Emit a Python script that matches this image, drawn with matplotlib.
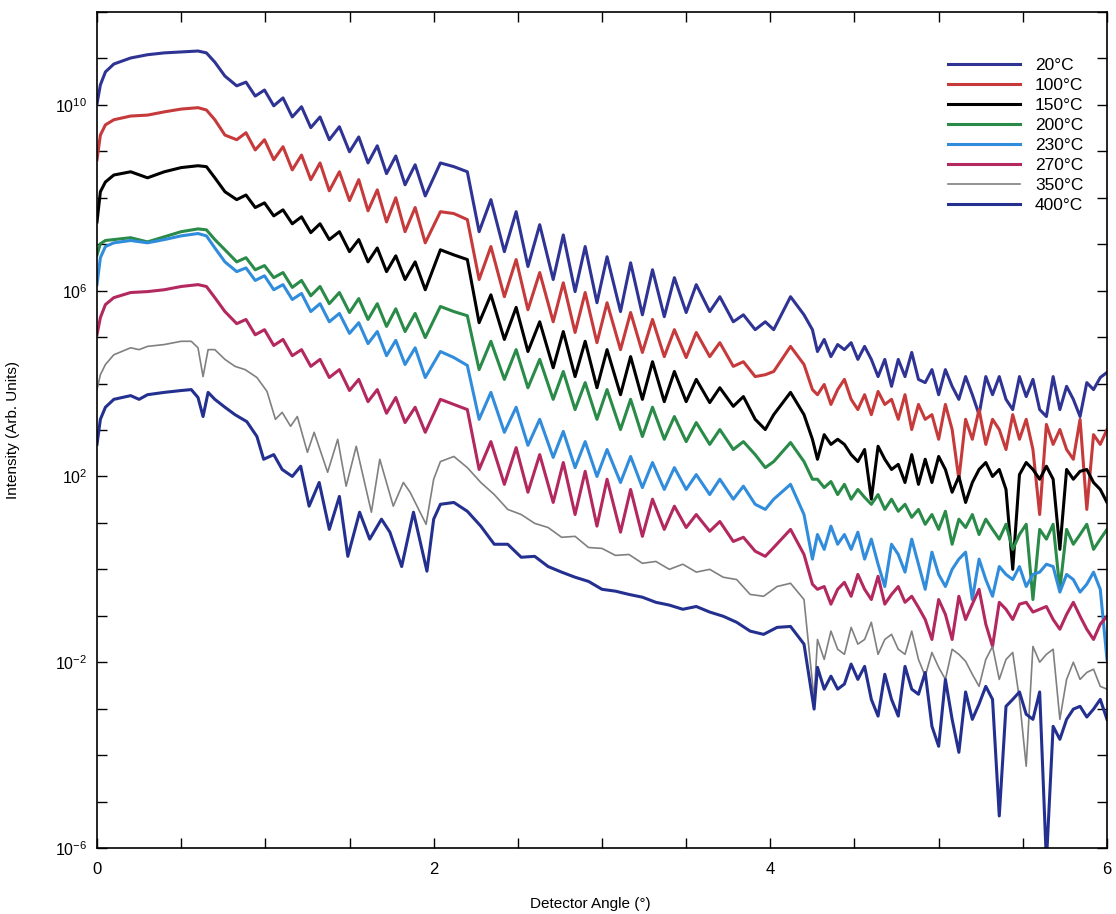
import numpy as np
import matplotlib
matplotlib.use("Agg")
import matplotlib.pyplot as plt
from matplotlib.ticker import FixedLocator, FuncFormatter, MultipleLocator, NullLocator

plt.rcParams["font.family"] = ["Liberation Sans", "DejaVu Sans"]
plt.rcParams["mathtext.default"] = "regular"

# ---- detector angle samples (degrees) ----
# upper six curves share the same fringe positions
head_a = [0.0, 0.02, 0.05, 0.1, 0.2, 0.3, 0.4, 0.5, 0.6, 0.65, 0.7, 0.76]
fringe1_a = [0.83, 0.885, 0.94, 0.995, 1.05, 1.105, 1.16, 1.215, 1.27, 1.325, 1.38,
             1.44, 1.50, 1.555, 1.61, 1.665, 1.72, 1.775, 1.83, 1.89, 1.95]
mid_a = [2.04, 2.12, 2.20]
fringe2_a = [2.27, 2.34, 2.42, 2.49, 2.56, 2.63, 2.71, 2.77, 2.84, 2.90, 2.97, 3.03,
             3.11, 3.17, 3.24, 3.30, 3.37, 3.43, 3.50, 3.56, 3.64, 3.70, 3.78, 3.84, 3.91]
bump_a = [3.97, 4.02, 4.12, 4.20, 4.25]
tail = [4.28, 4.32, 4.36, 4.40, 4.44, 4.48, 4.52, 4.56, 4.60, 4.64,
        4.68, 4.72, 4.76, 4.80, 4.84, 4.88, 4.92, 4.96, 5.00, 5.04,
        5.08, 5.12, 5.16, 5.20, 5.24, 5.28, 5.32, 5.36, 5.40, 5.44,
        5.48, 5.52, 5.56, 5.60, 5.64, 5.68, 5.72, 5.76, 5.80, 5.84,
        5.88, 5.92, 5.96, 6.00]
angle_upper = head_a + fringe1_a + mid_a + fringe2_a + bump_a + tail

# lower two curves (350 and 400 C)
head_b = [0.0, 0.02, 0.05, 0.1, 0.2, 0.25, 0.3, 0.4, 0.5, 0.56, 0.6, 0.63, 0.66, 0.7, 0.76, 0.82]
fringe_gray = [0.88, 0.95, 1.01, 1.06, 1.10, 1.15, 1.19, 1.25, 1.29, 1.37,
               1.43, 1.48, 1.54, 1.63, 1.68, 1.76, 1.82, 1.86, 1.955, 2.0]
fringe_navy = [0.89, 0.95, 0.99, 1.05, 1.10, 1.16, 1.21, 1.26, 1.32, 1.38,
               1.44, 1.49, 1.56, 1.62, 1.69, 1.74, 1.81, 1.88, 1.96, 2.0]
mid_b = [2.04, 2.12, 2.20, 2.28, 2.36, 2.44, 2.52, 2.60, 2.68, 2.76,
         2.84, 2.92, 3.00, 3.08, 3.16, 3.24, 3.32, 3.40, 3.48, 3.56,
         3.64, 3.72, 3.80, 3.88, 3.96, 4.04, 4.12, 4.20, 4.26]
angle_350 = head_b + fringe_gray + mid_b + tail
angle_400 = head_b + fringe_navy + mid_b + tail

# ---- log10 intensity ----
log_i_20 = [
    10.02, 10.43, 10.71, 10.88, 11.01, 11.08, 11.12, 11.14, 11.16, 11.12, 10.92, 10.62,
    10.41, 10.49, 10.19, 10.32, 9.98, 10.15, 9.74, 9.96, 9.51, 9.74, 9.25, 9.53, 8.99, 9.31,
    8.75, 9.12, 8.52, 8.90, 8.28, 8.71, 8.04,
    8.75, 8.67, 8.56,
    7.27, 7.96, 6.84, 7.70, 6.52, 7.42, 6.24, 7.20, 5.98, 6.95, 5.74, 6.73, 5.55, 6.60,
    5.48, 6.45, 5.44, 6.28, 5.53, 6.13, 5.55, 5.87, 5.33, 5.48, 5.16,
    5.33, 5.16, 5.87, 5.48, 5.16,
    4.69, 4.95, 4.58, 4.84, 4.73, 4.88, 4.52, 4.80, 4.52, 4.15, 4.52, 3.94, 4.52, 4.15,
    4.67, 4.09, 4.02, 4.30, 3.76, 4.30, 3.94, 3.66, 4.15, 3.76, 3.33, 4.15, 3.76, 4.15,
    3.66, 3.44, 4.15, 3.72, 4.09, 3.44, 3.29, 4.15, 3.44, 3.94, 3.66, 3.29, 4.02, 3.87,
    4.13, 4.24]
log_i_100 = [
    8.82, 9.35, 9.57, 9.68, 9.76, 9.78, 9.85, 9.91, 9.94, 9.89, 9.68, 9.35,
    9.25, 9.40, 9.03, 9.25, 8.82, 9.10, 8.60, 8.92, 8.39, 8.75, 8.15, 8.56, 7.94, 8.39,
    7.72, 8.17, 7.48, 8.00, 7.27, 7.79, 7.03,
    7.70, 7.66, 7.53,
    6.24, 6.95, 5.87, 6.67, 5.59, 6.39, 5.33, 6.17, 5.10, 5.96, 4.88, 5.74, 4.73, 5.53,
    4.67, 5.38, 4.58, 5.16, 4.56, 5.10, 4.58, 4.88, 4.37, 4.47, 4.15,
    4.19, 4.26, 4.80, 4.41, 3.87,
    3.76, 3.98, 3.55, 3.87, 4.09, 3.66, 3.44, 3.76, 3.33, 3.83, 3.55, 3.66, 3.23, 3.76,
    3.01, 3.55, 3.23, 3.33, 2.80, 3.55, 3.01, 1.94, 3.23, 2.80, 3.44, 2.69, 3.23, 3.01,
    2.58, 3.33, 2.80, 3.23, 2.58, 1.18, 3.12, 2.69, 3.01, 2.58, 2.37, 3.23, 1.29, 2.90,
    2.69, 3.01]
log_i_150 = [
    7.48, 8.13, 8.34, 8.49, 8.56, 8.43, 8.56, 8.65, 8.69, 8.67, 8.43, 8.13,
    7.96, 8.06, 7.79, 7.89, 7.61, 7.74, 7.44, 7.59, 7.25, 7.44, 7.10, 7.27, 6.84, 7.10,
    6.62, 6.92, 6.41, 6.75, 6.24, 6.62, 6.02,
    6.88, 6.77, 6.67,
    5.31, 5.91, 4.95, 5.64, 4.69, 5.33, 4.34, 5.12, 4.15, 4.91, 3.91, 4.73, 3.76, 4.58,
    3.66, 4.47, 3.61, 4.26, 3.61, 4.09, 3.59, 3.91, 3.51, 3.72, 3.23,
    3.01, 3.33, 3.81, 3.33, 2.80,
    2.37, 2.90, 2.69, 2.80, 2.69, 2.47, 2.32, 2.58, 1.51, 2.65, 2.37, 2.15, 2.26, 1.87,
    2.47, 1.83, 2.37, 1.87, 2.43, 2.15, 1.66, 2.00, 1.44, 1.87, 2.15, 2.30, 2.00, 2.15,
    1.72, 0.00, 2.04, 2.30, 2.15, 1.94, 2.22, 1.94, 0.43, 2.15, 1.94, 2.11, 2.15, 1.87,
    1.72, 1.44]
log_i_200 = [
    6.77, 7.01, 7.08, 7.10, 7.14, 7.05, 7.16, 7.27, 7.33, 7.31, 7.10, 6.88,
    6.62, 6.71, 6.45, 6.54, 6.28, 6.39, 6.07, 6.22, 5.89, 6.09, 5.72, 5.96, 5.53, 5.83,
    5.38, 5.72, 5.23, 5.61, 5.12, 5.51, 4.99,
    5.66, 5.55, 5.46,
    4.30, 4.91, 4.09, 4.73, 3.91, 4.52, 3.66, 4.26, 3.44, 4.02, 3.23, 3.87, 3.01, 3.66,
    2.86, 3.49, 2.80, 3.29, 2.75, 3.16, 2.69, 3.01, 2.58, 2.75, 2.47,
    2.19, 2.32, 2.73, 2.32, 1.94,
    1.94, 1.76, 1.89, 1.61, 1.83, 1.51, 1.72, 1.55, 1.40, 1.61, 1.29, 1.51, 1.25, 1.40,
    1.12, 1.29, 0.97, 1.18, 0.86, 1.25, 0.54, 1.08, 0.90, 1.18, 0.75, 1.08, 0.86, 0.65,
    0.97, 0.43, 0.75, 0.97, -0.65, 0.86, 0.65, 0.97, -0.43, 0.86, 0.54, 0.75, 0.97, 0.43,
    0.65, 0.86]
log_i_230 = [
    6.13, 6.71, 6.95, 7.03, 7.08, 7.03, 7.10, 7.18, 7.23, 7.18, 6.92, 6.62,
    6.41, 6.49, 6.22, 6.32, 6.02, 6.13, 5.81, 5.94, 5.55, 5.72, 5.33, 5.51, 5.08, 5.31,
    4.86, 5.12, 4.60, 4.93, 4.41, 4.77, 4.13,
    4.69, 4.56, 4.39,
    3.23, 3.81, 2.95, 3.49, 2.67, 3.23, 2.41, 2.97, 2.19, 2.75, 2.00, 2.58, 1.87, 2.43,
    1.76, 2.30, 1.72, 2.19, 1.72, 2.04, 1.61, 1.94, 1.51, 1.79, 1.40,
    1.29, 1.51, 1.83, 1.18, 0.22,
    0.75, 0.43, 0.93, 0.54, 0.75, 0.43, 0.80, 0.22, 0.65, 0.11, -0.37, 0.54, 0.32, -0.06,
    0.65, 0.11, -0.43, 0.37, -0.11, -0.37, 0.00, 0.22, 0.37, -0.65, 0.22, -0.22, -0.58,
    0.06, -0.11, -0.22, 0.06, -0.37, -0.11, -0.06, 0.11, 0.06, -0.49, -0.11, -0.22,
    -0.49, -0.32, -0.06, -0.43, -1.94]
log_i_270 = [
    5.05, 5.42, 5.70, 5.85, 5.96, 5.98, 6.02, 6.09, 6.13, 6.09, 5.85, 5.55,
    5.29, 5.38, 5.05, 5.16, 4.82, 4.95, 4.60, 4.73, 4.37, 4.52, 4.13, 4.30, 3.85, 4.09,
    3.61, 3.87, 3.36, 3.70, 3.16, 3.49, 2.95,
    3.66, 3.55, 3.44,
    2.15, 2.75, 1.83, 2.62, 1.66, 2.47, 1.44, 2.30, 1.18, 2.11, 0.93, 1.94, 0.80, 1.72,
    0.71, 1.51, 0.86, 1.36, 0.90, 1.18, 0.82, 1.03, 0.60, 0.69, 0.39,
    0.28, 0.47, 0.86, 0.32, -0.32,
    -0.43, -0.37, -0.75, -0.43, -0.28, -0.58, -0.11, -0.43, -0.65, -0.15, -0.75, -0.54,
    -0.37, -0.71, -0.58, -0.82, -1.08, -1.51, -0.65, -0.97, -1.51, -0.58, -1.08, -0.75,
    -0.43, -1.18, -1.66, -0.71, -0.86, -1.08, -0.75, -0.71, -0.92, -0.86, -0.80, -1.08,
    -1.29, -0.97, -0.71, -1.01, -1.29, -1.51, -1.18, -1.01]
log_i_350 = [
    3.87, 4.19, 4.41, 4.62, 4.77, 4.73, 4.80, 4.84, 4.91, 4.91, 4.77, 4.15, 4.73, 4.73,
    4.52, 4.37,
    4.30, 4.13, 3.83, 3.23, 3.38, 3.08, 3.29, 2.52, 2.95, 2.09, 2.80, 1.79, 2.65, 1.23,
    2.37, 1.36, 1.87, 1.66, 0.97, 1.94,
    2.32, 2.43, 2.19, 1.87, 1.61, 1.29, 1.18, 0.99, 0.90, 0.69, 0.71, 0.47, 0.45, 0.30,
    0.32, 0.13, 0.17, 0.00, 0.11, -0.06, 0.00, -0.17, -0.22, -0.54, -0.58, -0.37, -0.30,
    -0.65, -2.80,
    -1.51, -1.94, -1.33, -1.72, -1.83, -1.25, -1.61, -1.51, -1.14, -1.83, -1.51, -1.40,
    -1.72, -1.83, -1.33, -1.94, -2.30, -1.79, -2.11, -2.37, -1.72, -1.83, -1.98, -2.26,
    -2.52, -1.94, -1.66, -2.37, -1.94, -1.79, -2.80, -4.24, -1.66, -2.00, -1.83, -1.72,
    -3.23, -2.37, -2.00, -2.37, -2.22, -2.15, -2.52, -2.58]
log_i_400 = [
    2.69, 3.23, 3.49, 3.66, 3.74, 3.66, 3.76, 3.81, 3.85, 3.87, 3.70, 3.29, 3.81, 3.66,
    3.49, 3.33,
    3.18, 2.86, 2.37, 2.47, 2.15, 2.00, 2.22, 1.36, 1.87, 0.86, 1.57, 0.28, 1.23, 0.65,
    1.08, 0.80, 0.06, 1.23, -0.04, 1.08,
    1.40, 1.44, 1.25, 0.93, 0.54, 0.54, 0.26, 0.28, 0.06, -0.06, -0.17, -0.26, -0.43,
    -0.47, -0.54, -0.60, -0.71, -0.77, -0.86, -0.80, -0.92, -1.01, -1.14, -1.33, -1.40,
    -1.25, -1.23, -1.61, -3.01,
    -2.11, -2.58, -2.30, -2.58, -2.47, -2.04, -2.37, -2.09, -2.80, -3.16, -2.26, -2.80,
    -3.16, -2.09, -2.58, -2.69, -2.22, -3.38, -3.81, -2.37, -3.23, -3.94, -2.64, -3.23,
    -2.90, -2.52, -2.80, -5.31, -2.95, -2.80, -2.64, -3.12, -3.23, -2.64, -6.30, -3.38,
    -3.66, -3.23, -3.01, -2.95, -3.18, -3.01, -2.80, -3.23]

labels = ["20°C", "100°C", "150°C", "200°C", "230°C", "270°C", "350°C", "400°C"]
colors = ["#2f3494", "#c63a3b", "#000000", "#2a8a48", "#318ddc", "#b3285f", "#808080", "#243090"]
widths = [2.2, 2.2, 2.2, 2.2, 2.2, 2.2, 1.2, 2.2]
series = [
    (angle_upper, log_i_20), (angle_upper, log_i_100), (angle_upper, log_i_150),
    (angle_upper, log_i_200), (angle_upper, log_i_230), (angle_upper, log_i_270),
    (angle_350, log_i_350), (angle_400, log_i_400),
]

fig = plt.figure(figsize=(11.16, 9.14), dpi=100)
ax = fig.add_axes([97 / 1116, 66 / 914, 1010 / 1116, 836 / 914])

for (x, y), lab, col, lw in zip(series, labels, colors, widths):
    n = min(len(x), len(y))
    if len(x) != len(y):
        print(f"length mismatch for {lab}: {len(x)} vs {len(y)}")
    ax.plot(x[:n], 10.0 ** np.array(y[:n]), color=col, lw=lw, label=lab,
            solid_joinstyle="round")

ax.set_xlim(0, 6)
ax.set_yscale("log")
ax.set_ylim(1e-6, 1e12)

ax.yaxis.set_major_locator(FixedLocator([10.0 ** k for k in range(-6, 13)]))
ax.yaxis.set_minor_locator(NullLocator())
shown_exp = {-6, -2, 2, 6, 10}


def ylab(v, pos):
    e = int(round(np.log10(v)))
    return r"$10^{%d}$" % e if e in shown_exp else ""


ax.yaxis.set_major_formatter(FuncFormatter(ylab))
ax.xaxis.set_major_locator(MultipleLocator(0.5))
ax.xaxis.set_major_formatter(FuncFormatter(
    lambda v, pos: f"{int(round(v))}" if abs(v / 2 - round(v / 2)) < 1e-6 else ""))

ax.tick_params(direction="in", top=True, right=True, length=7, width=1.0)
ax.tick_params(axis="y", labelsize=11.5, pad=7)
ax.tick_params(axis="x", labelsize=12, pad=10)
for sp in ax.spines.values():
    sp.set_linewidth(1.2)

ax.set_xlabel("Detector Angle (°)", fontsize=11)
ax.set_ylabel("Intensity (Arb. Units)", fontsize=11)
ax.xaxis.set_label_coords((590 - 97) / 1010, -(897 - 848) / 836)
ax.yaxis.set_label_coords((20 - 97) / 1010, 0.5)

ax.legend(loc="upper left", bbox_to_anchor=(948 / 1116, 1 - 58 / 914),
          bbox_transform=fig.transFigure, frameon=False, fontsize=12.5,
          handlelength=4.15, handletextpad=0.86, labelspacing=0.28, borderpad=0,
          borderaxespad=0)

fig.savefig("out.png", dpi=100)
